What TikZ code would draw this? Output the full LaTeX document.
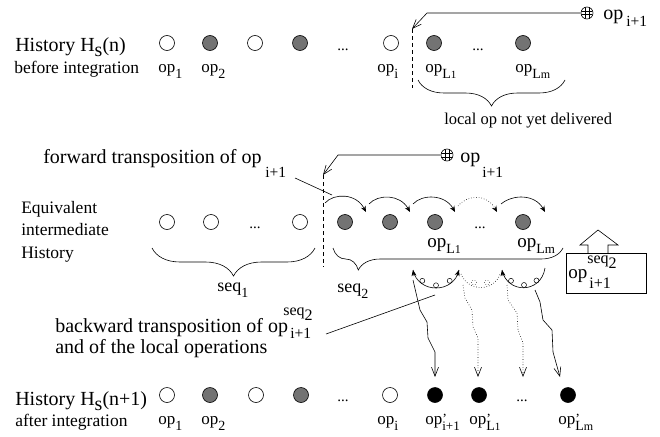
\documentclass[tikz,border=0pt]{standalone}
\usepackage{fontspec}
\setmainfont{Liberation Serif}
\usetikzlibrary{arrows.meta,decorations.pathreplacing}
\newcommand{\fs}[1]{\fontsize{#1}{#1}\selectfont}
\newcommand{\sub}[1]{\raisebox{-6pt}{\fs{14}#1}}
\newcommand{\pr}{\rlap{\raisebox{1pt}{\fs{14}'}}}
\begin{document}
\begin{tikzpicture}[x=1pt,y=-1pt,
  opw/.style={circle,draw,line width=0.6pt,minimum size=15pt,inner sep=0pt},
  opg/.style={opw,fill=black!55},
  opb/.style={opw,fill=black},
  txt/.style={anchor=base west,inner sep=0pt},
  big/.style={txt,font=\fs{20}},
  mid/.style={txt,font=\fs{17.5}},
  lab/.style={txt,font=\fs{17}},
  lab2/.style={txt,font=\fs{19}},
  small/.style={txt,font=\fs{15.5}},
  dotsn/.style={anchor=base,inner sep=0pt,font=\fs{15}},
  vtip/.style={-{Straight Barb[length=9pt,width=7pt]}},
  ftip/.style={-{Stealth[length=6pt,width=5pt]}},
  dashln/.style={dash pattern=on 4pt off 3pt},
  brc/.style={decorate,decoration={brace,mirror,amplitude=#1}},
  loopc/.style={circle,draw,minimum size=5pt,inner sep=0pt,line width=0.5pt},
  oplus/.style={circle,draw,minimum size=12pt,inner sep=0pt,
    path picture={
      \foreach \d in {-1.8,1.8}{
        \draw ([xshift=\d pt]path picture bounding box.north) -- ([xshift=\d pt]path picture bounding box.south);
        \draw ([yshift=\d pt]path picture bounding box.west) -- ([yshift=\d pt]path picture bounding box.east);}}},
  line width=0.6pt
]
\useasboundingbox (0,0) rectangle (660,436);

% ---------------- Row 1
\node[big] (h1) at (15,52) {History H\raisebox{-5pt}{s}(n)};
\node[mid] (h1b) at (14,73) {before integration};
\node[opw] (a1) at (167,43) {};
\node[opg] (a2) at (210,43) {};
\node[opw] (a3) at (255,43) {};
\node[opg] (a4) at (300,43) {};
\node[dotsn] (ad1) at (343,50) {...};
\node[opw] (ai) at (391,43) {};
\node[opg] (aL1) at (434,43) {};
\node[dotsn] (ad2) at (478,50) {...};
\node[opg] (aLm) at (523,43) {};
\node[lab] (la1) at (158,72) {op\sub{1}};
\node[lab] (la2) at (201,72) {op\sub{2}};
\node[lab] (lai) at (377,72) {op\sub{i}};
\node[lab] (laL1) at (425,72) {op\sub{L{\fs{11}1}}};
\node[lab] (laLm) at (515,72) {op\sub{L{\fs{12}m}}};
\coordinate (d1t) at (412,29);
\coordinate (d1b) at (412,88);
\draw[dashln] (d1t) -- (d1b);
\node[oplus] (p1) at (587,13) {};
\node[big] (p1l) at (603,20) {op};
\node[small] (p1s) at (626,27) {i+1};
\coordinate (p1k) at (427,13);
\draw[vtip] (p1.west) -- (p1k) -- (d1t);
\coordinate (b1a) at (418,80);
\coordinate (b1b) at (565,80);
\draw[brc=26pt] (b1a) -- (b1b);
\node[txt,font=\fs{16.5}] (b1t) at (444,124) {local op not yet delivered};

% ---------------- Row 2
\node[big] (fw) at (43,163) {forward transposition of op};
\node[small] (fws) at (265,177) {i+1};
\node[oplus] (p2) at (447,155) {};
\node[big] (p2l) at (460,162) {op};
\node[small] (p2s) at (482,177) {i+1};
\node[mid] (eq1) at (21,213) {Equivalent};
\node[mid] (eq2) at (21,235) {intermediate};
\node[mid] (eq3) at (21,258) {History};
\node[opw] (e1) at (167,222) {};
\node[opw] (e2) at (211,222) {};
\node[dotsn] (ed1) at (255,228) {...};
\node[opw] (e3) at (300,222) {};
\node[opg] (g1) at (345,222) {};
\node[opg] (g2) at (390,222) {};
\node[opg] (g3) at (435,222) {};
\node[dotsn] (ed2) at (480,228) {...};
\node[opg] (g4) at (523,222) {};
\node[lab2] (lgL1) at (427,247) {op\sub{L{\fs{12}1}}};
\node[lab2] (lgLm) at (517,247) {op\sub{L{\fs{13}m}}};
\coordinate (d2t) at (323,175);
\coordinate (d2b) at (323,267);
\draw[dashln] (d2t) -- (d2b);
\coordinate (p2k) at (338,155);
\draw[vtip] (p2.west) -- (p2k) -- (d2t);
\coordinate (fwa) at (295,178);
\coordinate (fwb) at (332,195);
\draw (fwa) -- (fwb);
% forward transposition arcs
\coordinate (k0) at (325,203);
\coordinate (k1) at (366,212);
\coordinate (k1s) at (369,204);
\coordinate (k2) at (410,212);
\coordinate (k2s) at (413,204);
\coordinate (k3) at (455,212);
\coordinate (k3s) at (458,206);
\coordinate (k4) at (497,212);
\coordinate (k4s) at (501,204);
\coordinate (k5) at (545,212);
\draw[ftip] (k0) .. controls (334,193) and (356,193) .. (k1);
\draw[ftip] (k1s) .. controls (378,194) and (400,194) .. (k2);
\draw[ftip] (k2s) .. controls (422,194) and (445,194) .. (k3);
\draw[ftip,dotted] (k3s) .. controls (468,194) and (487,194) .. (k4);
\draw[ftip] (k4s) .. controls (513,194) and (535,194) .. (k5);
% braces
\coordinate (s1a) at (152,248);
\coordinate (s1b) at (315,248);
\draw[brc=28pt] (s1a) -- (s1b);
\node[txt,font=\fs{18}] (s1t) at (217,291) {seq\sub{1}};
\coordinate (s2a) at (333,248);
\coordinate (s2b) at (563,248);
\draw[decorate,decoration={brace,mirror,amplitude=22pt,aspect=0.11}] (s2a) -- (s2b);
\node[txt,font=\fs{18}] (s2t) at (337,292) {seq\sub{2}};
% box with block arrow
\node[draw,minimum width=80pt,minimum height=40pt,inner sep=0pt] (bx) at (606,273) {};
\node[lab2] (bxo) at (568,278) {op};
\node[txt,font=\fs{16}] (bxs) at (587,263) {seq\raisebox{-5pt}{2}};
\node[txt,font=\fs{16}] (bxi) at (589,288) {i+1};
\draw (588,253) -- (588,245) -- (580,245) -- (598,230) -- (618,245) -- (608,245) -- (608,253);

% ---------------- backward transposition
\coordinate (u1a) at (413,270);
\coordinate (u1b) at (459,270);
\coordinate (u2a) at (502,270);
\coordinate (u2b) at (545,268);
\draw (u1a) .. controls (418,294) and (454,294) .. (u1b);
\node[loopc] (l11) at (422.3,280.8) {};
\node[loopc] (l12) at (436,285.3) {};
\node[loopc] (l13) at (449.7,280.8) {};
\draw[ftip] (414,276) -- (u1a);
\draw[ftip] (457,276) -- (u1b);
\draw[dotted] (461,274) .. controls (468,292) and (494,292) .. (500,274);
\node[loopc,dotted] (lm1) at (474,282.5) {};
\node[loopc,dotted] (lm2) at (487,282.5) {};
\draw (u2a) .. controls (507,294) and (541,294) .. (u2b);
\node[loopc] (l21) at (511,280.8) {};
\node[loopc] (l22) at (524,285) {};
\node[loopc] (l23) at (536.5,280.5) {};
\draw[ftip] (503,276) -- (u2a);

\node[big] (bw) at (55,332) {backward transposition of op};
\node[txt,font=\fs{16}] (bws) at (283,315) {seq\raisebox{-5pt}{2}};
\node[small] (bwi) at (290,338) {i+1};
\node[big] (bw2) at (55,353) {and of the local operations};
\coordinate (bwa) at (326,334);
\coordinate (bwb) at (435,295);
\draw (bwa) -- (bwb);

% wavy arrows
\coordinate (w1e) at (435,377);
\coordinate (w2e) at (478,377);
\coordinate (w3e) at (523,377);
\coordinate (w4e) at (560,377);
\draw[vtip] (413,280) -- (420,310) -- (427,322) -- (428,338) -- (435,352) -- (w1e);
\draw[vtip,dotted] (463,285) -- (465,298) -- (472,310) -- (473,327) -- (478,338) -- (w2e);
\draw[vtip,dotted] (507,285) -- (508,300) -- (517,313) -- (518,330) -- (523,343) -- (w3e);
\draw[vtip] (535,290) -- (540,302) -- (543,320) -- (552,330) -- (553,352) -- (w4e);

% ---------------- Row 3
\node[big] (h3) at (15,405) {History H\raisebox{-5pt}{s}(n+1)};
\node[mid] (h3b) at (15,426) {after integration};
\node[opw] (c1) at (167,395) {};
\node[opg] (c2) at (210,395) {};
\node[opw] (c3) at (256,395) {};
\node[opg] (c4) at (301,395) {};
\node[dotsn] (cd1) at (343,401) {...};
\node[opw] (ci) at (390,395) {};
\node[opb] (cn) at (435,395) {};
\node[opb] (cL1) at (479,395) {};
\node[dotsn] (cd2) at (522,401) {...};
\node[opb] (cLm) at (568,395) {};
\node[lab] (lc1) at (158,424) {op\sub{1}};
\node[lab] (lc2) at (201,424) {op\sub{2}};
\node[lab] (lci) at (377,424) {op\sub{i}};
\node[lab] (lcn) at (425,424) {op\pr\raisebox{-6pt}{\fs{13}i+1}};
\node[lab] (lcL1) at (469,424) {op\pr\sub{L{\fs{11}1}}};
\node[lab] (lcLm) at (558,424) {op\pr\sub{L{\fs{12}m}}};
\end{tikzpicture}
\end{document}
